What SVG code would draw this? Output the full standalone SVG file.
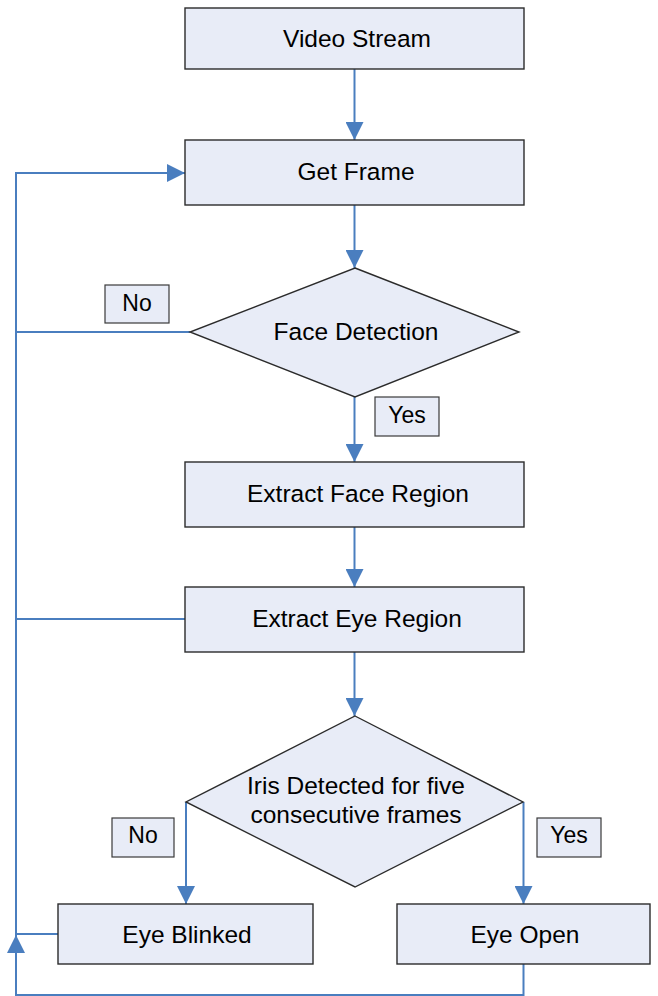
<svg xmlns="http://www.w3.org/2000/svg" width="658" height="996" viewBox="0 0 658 996">
<defs>
<style>
.box{fill:#E8ECF7;stroke:#2b2b2b;stroke-width:1.4}
.lbl{fill:#E8ECF7;stroke:#3a3a3a;stroke-width:1.2}
.t{font-family:"Liberation Sans",Arial,sans-serif;font-size:24.5px;fill:#000;text-anchor:middle}
.s{font-family:"Liberation Sans",Arial,sans-serif;font-size:23px;fill:#000;text-anchor:middle}
.c{fill:none;stroke:#4A7EBF;stroke-width:2}
</style>
<marker id="ah" markerUnits="userSpaceOnUse" markerWidth="18" markerHeight="18" viewBox="0 0 16 16" refX="16" refY="8" orient="auto">
<path d="M0,0 L16,8 L0,16 z" fill="#4A7EBF"/>
</marker>
</defs>
<rect width="658" height="996" fill="#fff"/>
<g id="connectors">
<path class="c" d="M354.5,69 V140" marker-end="url(#ah)"/>
<path class="c" d="M354.5,205 V268" marker-end="url(#ah)"/>
<path class="c" d="M354.5,397 V462" marker-end="url(#ah)"/>
<path class="c" d="M354.5,527 V587" marker-end="url(#ah)"/>
<path class="c" d="M354.5,652 V716" marker-end="url(#ah)"/>
<path class="c" d="M186,802 V904" marker-end="url(#ah)"/>
<path class="c" d="M523.5,802 V904" marker-end="url(#ah)"/>
<path class="c" d="M523.5,964 V995 H16 V935" marker-end="url(#ah)"/>
<path class="c" d="M16,935 V173 H185" marker-end="url(#ah)"/>
<path class="c" d="M190,332 H16"/>
<path class="c" d="M185,619 H16"/>
<path class="c" d="M58,934 H16"/>
</g>
<g id="video-stream"><rect class="box" x="185" y="8" width="339" height="61"/><text class="t" x="357" y="47">Video Stream</text></g>
<g id="get-frame"><rect class="box" x="185" y="140" width="339" height="65"/><text class="t" x="356" y="180">Get Frame</text></g>
<g id="face-detection"><polygon class="box" points="355,268 519,332 355,397 190,332"/><text class="t" x="356" y="340">Face Detection</text></g>
<g id="label-no-1"><rect class="lbl" x="105" y="285" width="64" height="38"/><text class="s" x="137" y="311">No</text></g>
<g id="label-yes-1"><rect class="lbl" x="375" y="397" width="64" height="39"/><text class="s" x="407" y="423">Yes</text></g>
<g id="extract-face"><rect class="box" x="185" y="462" width="339" height="65"/><text class="t" x="358" y="502">Extract Face Region</text></g>
<g id="extract-eye"><rect class="box" x="185" y="587" width="339" height="65"/><text class="t" x="357" y="627">Extract Eye Region</text></g>
<g id="iris-detected"><polygon class="box" points="355,716 523,802 355,887 186,802"/><text class="t" x="356" y="794">Iris Detected for five</text><text class="t" x="356" y="823">consecutive frames</text></g>
<g id="label-no-2"><rect class="lbl" x="112" y="818" width="62" height="39"/><text class="s" x="143" y="843">No</text></g>
<g id="label-yes-2"><rect class="lbl" x="537" y="818" width="64" height="39"/><text class="s" x="569" y="843">Yes</text></g>
<g id="eye-blinked"><rect class="box" x="58" y="904" width="255" height="60"/><text class="t" x="187" y="943">Eye Blinked</text></g>
<g id="eye-open"><rect class="box" x="397" y="904" width="253" height="60"/><text class="t" x="525" y="943">Eye Open</text></g>
</svg>
